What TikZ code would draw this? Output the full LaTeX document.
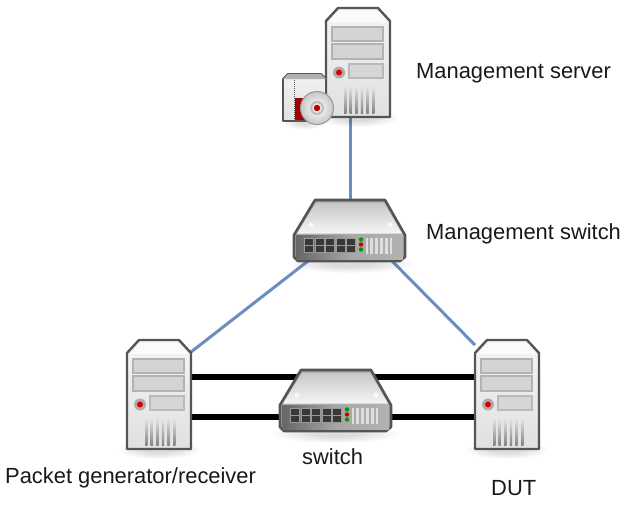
\documentclass[tikz,border=0pt]{standalone}
\usepackage{fontspec}
\setmainfont{Liberation Sans}
\definecolor{linkblue}{HTML}{6C8EBF}
\definecolor{edgegray}{HTML}{555555}
\tikzset{
  devbox/.style={inner sep=0pt,outer sep=0pt,draw=none},
  mgmt/.style={draw=linkblue,line width=3pt},
  data/.style={draw=black,line width=6pt},
  lbl/.style={inner sep=0pt,font=\fontsize{21.9}{24}\selectfont,text=black!90},
  softshadow/.pic={
    \foreach \r in {1,0.9,0.8,0.7,0.6,0.5,0.4}
      \fill[black,opacity=0.02] (0,0) ellipse[x radius=\r*#1 pt,y radius=\r*9pt];
  },
  serverpic/.pic={
    \pic at (32,110) {softshadow=40};
    \path[top color=white!96!black,bottom color=black!12,draw=edgegray,line width=2.4pt,line join=round]
      (0,13)--(12,0)--(52,0)--(64,13)--(64,109)--(0,109)--cycle;
    \fill[white,opacity=.7] (3,14)--(13,3)--(51,3)--(61,14)--cycle;
    \foreach \ya/\yb in {19/33,36/51}
      \draw[draw=black!30,fill=black!17,line width=2pt] (6,\ya) rectangle (57,\yb);
    \draw[draw=black!27,fill=black!16,line width=2pt] (23,56) rectangle (57,70);
    \fill[black!32] (13,64.5) circle[radius=6];
    \fill[red!85!black] (13,64.5) circle[radius=3];
    \foreach \i in {0,...,5}
      \path[top color=black!10,bottom color=black!48] (18+\i*5.6,78) rectangle ++(2.3,27);
  },
  switchpic/.pic={
    \pic at (56,64) {softshadow=62};
    \path[top color=black!35,bottom color=black!30,draw=edgegray,line width=2.6pt,line join=round]
      (21,0)--(91,0)--(111,35)--(111,57)--(106,61)--(4,61)--(0,57)--(0,35)--cycle;
    \path[top color=black!22,bottom color=black!4] (22,2.5)--(90,2.5)--(108,33.5)--(3,33.5)--cycle;
    \path[left color=black!60,right color=black!30,middle color=black!35] (2,35) rectangle (109,59);
    \fill[white,opacity=.75] (17,25) circle[radius=2.6] (96,25) circle[radius=2.6];
    \foreach \c in {0,...,4} \foreach \d in {0,1}
      \draw[draw=black!40,fill=black!78,line width=.8pt] (10.5+\c*10.5,38+\d*7.8) rectangle ++(9,7);
    \fill[green!60!black] (67,39.5) circle[radius=2.2];
    \fill[red!80!black] (67,44.5) circle[radius=2.2];
    \fill[green!60!black] (67,49.5) circle[radius=2.2];
    \foreach \i in {0,...,5}
      \fill[black!8,opacity=.8] (71.5+\i*4.9,37.5) rectangle ++(2.4,16);
  },
  cdpic/.pic={
    \pic at (22,47) {softshadow=22};
    \path[top color=white!95!black,bottom color=black!12,draw=edgegray,line width=1.8pt,line join=round]
      (0,5)--(5,0)--(38,0)--(43,5)--(43,47)--(0,47)--cycle;
    \fill[black!30] (0,5)--(5,0)--(38,0)--(43,5)--cycle;
    \fill[red!65!black] (12,24) rectangle (31,46);
    \draw[black!65,line width=1pt,densely dotted] (11.5,6)--(11.5,46);
    \path[inner color=white,outer color=black!22,draw=black!40,line width=1pt] (34,34) circle[radius=16.5];
    \fill[black!25] (34,34) circle[radius=7];
    \fill[white!90!black] (34,34) circle[radius=5];
    \fill[red!75!black] (34,34) circle[radius=3.2];
  }
}
\begin{document}
\begin{tikzpicture}[x=1pt,y=-1pt]
\useasboundingbox (0,0) rectangle (635,504);
\fill[white] (0,0) rectangle (635,504);
\node[devbox,minimum width=64pt,minimum height=109pt] (ms) at (358,62.5) {};
\node[devbox,minimum width=112pt,minimum height=62pt] (sw) at (350,230) {};
\node[devbox,minimum width=64pt,minimum height=109pt] (pg) at (159,394.5) {};
\node[devbox,minimum width=64pt,minimum height=109pt] (dut) at (507,394.5) {};
\node[devbox,minimum width=112pt,minimum height=62pt] (dsw) at (336,400) {};
\draw[mgmt] (sw.north |- ms.south) -- (sw.north);
\draw[mgmt] ([xshift=-42pt]sw.south) -- ([yshift=42.5pt]pg.east);
\draw[mgmt] ([xshift=42pt]sw.south) -- ([yshift=49.5pt]dut.west);
\draw[data] ([yshift=17.5pt]pg.east) -- ([yshift=17.5pt]dut.west);
\draw[data] ([yshift=-22.5pt]pg.east) -- ([yshift=-22.5pt]dut.west);
\pic at (326,8) {serverpic};
\pic at (283,74) {cdpic};
\pic at (294,200) {switchpic};
\pic at (127,340) {serverpic};
\pic at (475,340) {serverpic};
\pic at (280,370) {switchpic};
\node[lbl,anchor=west] (l1) at (416,73.5) {Management server};
\node[lbl,anchor=west] (l2) at (426,233.5) {Management switch};
\node[lbl,anchor=west] (l3) at (5,478) {Packet generator/receiver};
\node[lbl,anchor=west] (l4) at (302,457) {switch};
\node[lbl,anchor=west] (l5) at (491,488) {DUT};
\end{tikzpicture}
\end{document}
